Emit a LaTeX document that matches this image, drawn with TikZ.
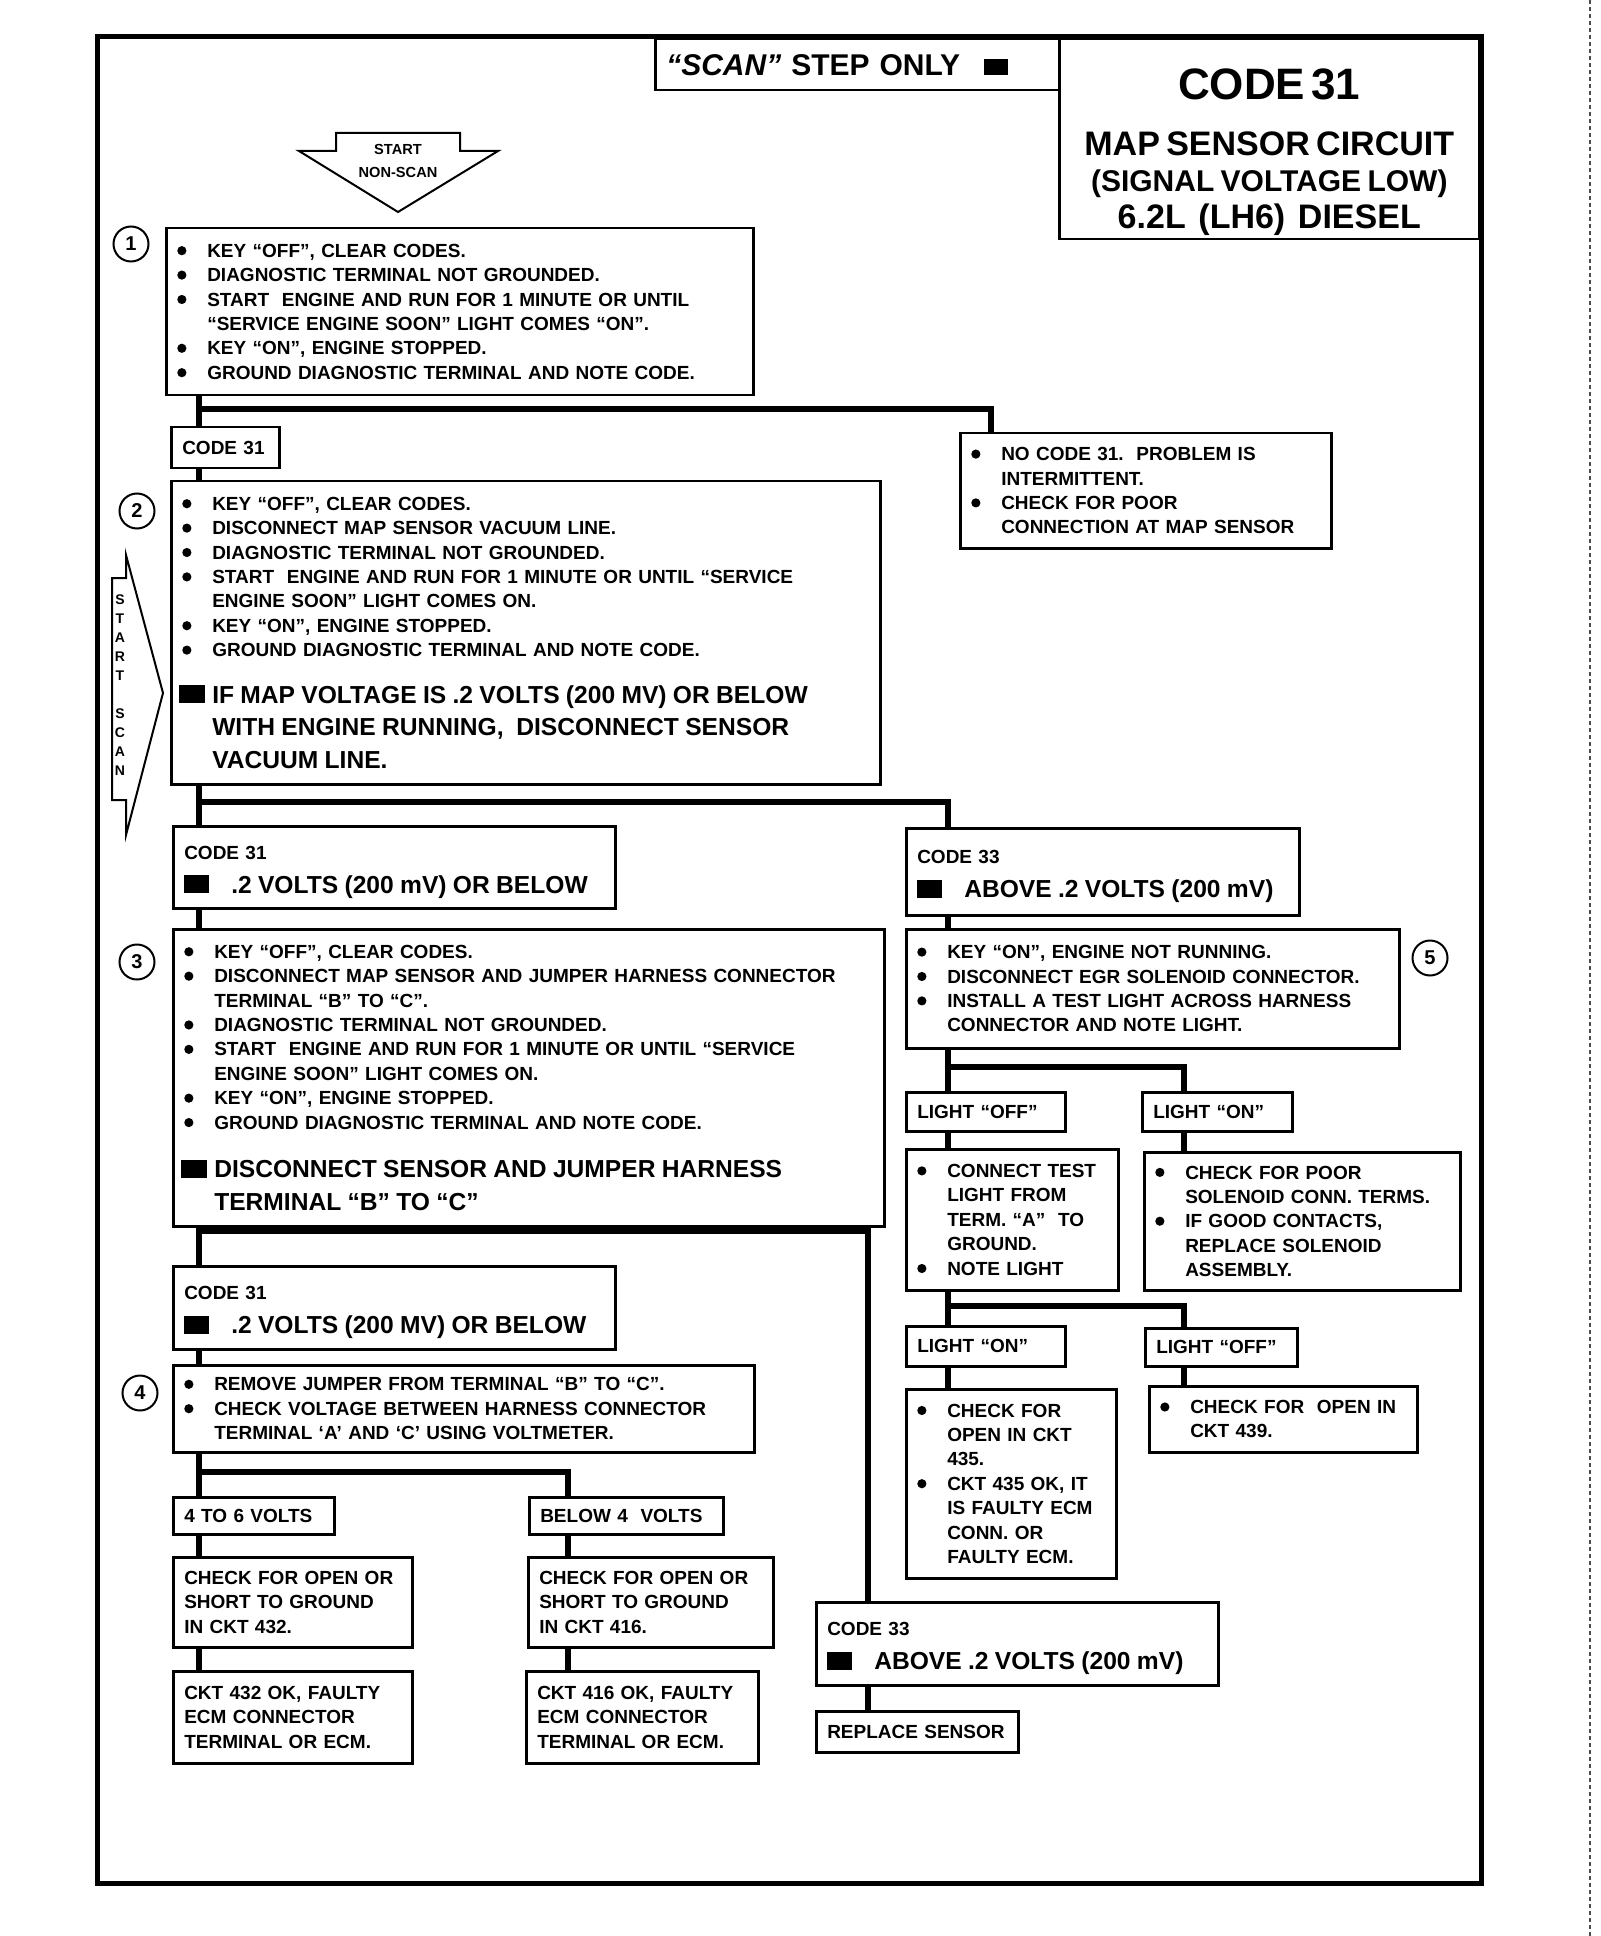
\documentclass[tikz,border=0pt]{standalone}
\usepackage{fontspec}
\setmainfont{Liberation Sans}
\usetikzlibrary{positioning,calc}
\tikzset{
  box/.style={draw,line width=1.25pt,anchor=north west,align=left,
              inner xsep=5.5pt,inner ysep=2pt,
              font=\fontsize{9.5}{12.2}\selectfont\bfseries},
  wh/.style 2 args={text width=#1pt,minimum height=#2pt},
  num/.style={circle,draw,line width=1pt,minimum size=17.5pt,inner sep=0pt,
              font=\fontsize{10}{10}\selectfont\bfseries},
  conn/.style={line width=2.6pt},
}
\newcommand{\bul}{\makebox[15pt][l]{\tikz[baseline=-3.3pt]\fill (2.3pt,0) circle (2.3pt);}}
\newcommand{\cont}{\hspace*{15pt}}
\newcommand{\blk}{\makebox[15pt][l]{\hspace*{-1.5pt}\rule{13pt}{9pt}}}
\newcommand{\blkc}{\makebox[23.5pt][l]{\rule{12.5pt}{9pt}}}
\newcommand{\bigtxt}{\fontsize{12.3}{16.25}\selectfont}

\begin{document}
\begin{tikzpicture}[x=0.5pt,y=-0.5pt,
    arrtxt/.style={font=\fontsize{7.3}{11.5}\selectfont\bfseries,align=center},
    outl/.style={draw,line width=1pt,line join=miter},
  ]
\useasboundingbox (0,0) rectangle (1600,1936);
\draw[line width=2.5pt] (97,37) rectangle (1481,1883);
\draw[black!70,line width=0.6pt,dash pattern=on 2pt off 1.5pt] (1590,0) -- (1590,1936);

% heading
\node[box,wh={191}{25.5},font=\fontsize{15}{18}\selectfont\bfseries] (scan) at (654,38)
  {\textit{“SCAN”} STEP ONLY\hspace{12pt}\rule{12pt}{8pt}};
\node[box,wh={199}{100},align=center] (title) at (1058,38)
  {{\fontsize{22}{26}\selectfont CODE 31\par}
   {\fontsize{17}{28}\selectfont MAP SENSOR CIRCUIT\par}
   {\fontsize{15}{18}\selectfont (SIGNAL VOLTAGE LOW)\par}
   {\fontsize{17}{18.5}\selectfont 6.2L\ \ (LH6)\ \ DIESEL\par}\kern-13pt};

% start arrows
\draw[outl] (336,133) -- (460,133) -- (460,151) -- (498,151) -- (398,212)
  -- (299,151) -- (336,151) -- cycle;
\node[arrtxt] (nonscan) at (398,161) {START\\NON-SCAN};
\draw[outl] (126,555) -- (163,693) -- (126,835) -- (126,800) -- (112,800)
  -- (112,578) -- (126,578) -- cycle;
\node[arrtxt,font=\fontsize{7}{9.5}\selectfont\bfseries] (startscan) at (120,685)
  {S\\T\\A\\R\\T\\[9.5pt]S\\C\\A\\N};

% step numbers
\node[num] (n1) at (131,244) {1};
\node[num] (n2) at (137,511) {2};
\node[num] (n3) at (137,962) {3};
\node[num] (n4) at (140,1393) {4};
\node[num] (n5) at (1430,958) {5};

% left column
\node[box,wh={282.5}{83.5}] (b1) at (165,227)
  {\bul KEY “OFF”, CLEAR CODES.\\
   \bul DIAGNOSTIC TERMINAL NOT GROUNDED.\\
   \bul START\ \ ENGINE AND RUN FOR 1 MINUTE OR UNTIL\\
   \cont “SERVICE ENGINE SOON” LIGHT COMES “ON”.\\
   \bul KEY “ON”, ENGINE STOPPED.\\
   \bul GROUND DIAGNOSTIC TERMINAL AND NOTE CODE.};
\node[box,wh={43}{20.5}] (c31a) at (170,426) {CODE 31};
\node[box,wh={174.5}{57.5}] (nc) at (959,432)
  {\bul NO CODE 31.\ \ PROBLEM IS\\
   \cont INTERMITTENT.\\
   \bul CHECK FOR POOR\\
   \cont CONNECTION AT MAP SENSOR};
\node[box,wh={343.5}{151.5}] (b2) at (170,480)
  {\bul KEY “OFF”, CLEAR CODES.\\
   \bul DISCONNECT MAP SENSOR VACUUM LINE.\\
   \bul DIAGNOSTIC TERMINAL NOT GROUNDED.\\
   \bul START\ \ ENGINE AND RUN FOR 1 MINUTE OR UNTIL “SERVICE\\
   \cont ENGINE SOON” LIGHT COMES ON.\\
   \bul KEY “ON”, ENGINE STOPPED.\\
   \bul GROUND DIAGNOSTIC TERMINAL AND NOTE CODE.\par
   \vspace{7pt}{\bigtxt\blk IF MAP VOLTAGE IS .2 VOLTS (200 MV) OR BELOW\\
   \cont WITH ENGINE RUNNING,\ \ DISCONNECT SENSOR\\
   \cont VACUUM LINE.\par}};
\node[box,wh={210}{41}] (c31b) at (172,825)
  {CODE 31\par{\fontsize{12.3}{17}\selectfont\blkc .2 VOLTS (200 mV) OR BELOW\par}\kern-5pt};
\node[box,wh={344.5}{148.5}] (b3) at (172,928)
  {\bul KEY “OFF”, CLEAR CODES.\\
   \bul DISCONNECT MAP SENSOR AND JUMPER HARNESS CONNECTOR\\
   \cont TERMINAL “B” TO “C”.\\
   \bul DIAGNOSTIC TERMINAL NOT GROUNDED.\\
   \bul START\ \ ENGINE AND RUN FOR 1 MINUTE OR UNTIL “SERVICE\\
   \cont ENGINE SOON” LIGHT COMES ON.\\
   \bul KEY “ON”, ENGINE STOPPED.\\
   \bul GROUND DIAGNOSTIC TERMINAL AND NOTE CODE.\par
   \vspace{8pt}{\bigtxt\blk DISCONNECT SENSOR AND JUMPER HARNESS\\
   \cont TERMINAL “B” TO “C”\par}};
\node[box,wh={210}{41.5}] (c31c) at (172,1265)
  {CODE 31\par{\fontsize{12.3}{17}\selectfont\blkc .2 VOLTS (200 MV) OR BELOW\par}\kern-5pt};
\node[box,wh={279.5}{43.5}] (b4) at (172,1364)
  {\bul REMOVE JUMPER FROM TERMINAL “B” TO “C”.\\
   \bul CHECK VOLTAGE BETWEEN HARNESS CONNECTOR\\
   \cont TERMINAL ‘A’ AND ‘C’ USING VOLTMETER.};
\node[box,wh={69.5}{18.5}] (v46) at (172,1496) {4 TO 6 VOLTS};
\node[box,wh={86}{18.5}] (vb4) at (528,1496) {BELOW 4\ \ VOLTS};
\node[box,wh={108.5}{45}] (k432) at (172,1556)
  {CHECK FOR OPEN OR\\SHORT TO GROUND\\IN CKT 432.};
\node[box,wh={111.5}{45}] (k416) at (527,1556)
  {CHECK FOR OPEN OR\\SHORT TO GROUND\\IN CKT 416.};
\node[box,wh={108.5}{46}] (ok432) at (172,1670)
  {CKT 432 OK, FAULTY\\ECM CONNECTOR\\TERMINAL OR ECM.};
\node[box,wh={105}{46}] (ok416) at (525,1670)
  {CKT 416 OK, FAULTY\\ECM CONNECTOR\\TERMINAL OR ECM.};

% right column
\node[box,wh={185.5}{43.5}] (c33a) at (905,827)
  {CODE 33\par{\fontsize{12.3}{17}\selectfont\blkc ABOVE .2 VOLTS (200 mV)\par}\kern-5pt};
\node[box,wh={235.5}{59.5}] (b5) at (905,928)
  {\bul KEY “ON”, ENGINE NOT RUNNING.\\
   \bul DISCONNECT EGR SOLENOID CONNECTOR.\\
   \bul INSTALL A TEST LIGHT ACROSS HARNESS\\
   \cont CONNECTOR AND NOTE LIGHT.};
\node[box,wh={68.5}{19.5}] (loffa) at (905,1091) {LIGHT “OFF”};
\node[box,wh={64}{19.5}] (lona) at (1141,1091) {LIGHT “ON”};
\node[box,wh={95}{70.5}] (ctl) at (905,1148)
  {\bul CONNECT TEST\\
   \cont LIGHT FROM\\
   \cont TERM. “A”\ \ TO\\
   \cont GROUND.\\
   \bul NOTE LIGHT};
\node[box,wh={147}{69}] (cps) at (1143,1151)
  {\bul CHECK FOR POOR\\
   \cont SOLENOID CONN. TERMS.\\
   \bul IF GOOD CONTACTS,\\
   \cont REPLACE SOLENOID\\
   \cont ASSEMBLY.};
\node[box,wh={68.5}{20}] (lonb) at (905,1325) {LIGHT “ON”};
\node[box,wh={65}{19}] (loffb) at (1144,1327) {LIGHT “OFF”};
\node[box,wh={94}{94.5}] (c435) at (905,1388)
  {\bul CHECK FOR\\
   \cont OPEN IN CKT\\
   \cont 435.\\
   \bul CKT 435 OK, IT\\
   \cont IS FAULTY ECM\\
   \cont CONN. OR\\
   \cont FAULTY ECM.};
\node[box,wh={123}{33}] (c439) at (1148,1385)
  {\bul CHECK FOR\ \ OPEN IN\\
   \cont CKT 439.};
\node[box,wh={190}{41.5}] (c33b) at (815,1601)
  {CODE 33\par{\fontsize{12.3}{17}\selectfont\blkc ABOVE .2 VOLTS (200 mV)\par}\kern-5pt};
\node[box,wh={90}{20.5}] (rep) at (815,1710) {REPLACE SENSOR};

% junctions
\coordinate (j1) at (199,409);
\coordinate (j2) at (199,802);
\coordinate (j3) at (199,1231);
\coordinate (j4) at (199,1472);
\coordinate (j5) at (948,1067);
\coordinate (j6) at (948,1306);
\coordinate (xnc) at (991,0);
\coordinate (xv) at (568,0);
\coordinate (xl) at (1184,0);
\coordinate (xlong) at (868,0);

% connectors
\draw[conn] (b1.south -| j1) -- (c31a.north -| j1);
\draw[conn] (j1) -| (nc.north -| xnc);
\draw[conn] (c31a.south -| j1) -- (b2.north -| j1);
\draw[conn] (b2.south -| j2) -- (c31b.north -| j2);
\draw[conn] (j2) -| (c33a.north -| j5);
\draw[conn] (c31b.south -| j2) -- (b3.north -| j2);
\draw[conn] (b3.south -| j3) -- (c31c.north -| j3);
\draw[conn] (j3) -| (c33b.north -| xlong);
\draw[conn] (c31c.south -| j3) -- (b4.north -| j3);
\draw[conn] (b4.south -| j4) -- (v46.north -| j4);
\draw[conn] (j4) -| (vb4.north -| xv);
\draw[conn] (v46.south -| j4) -- (k432.north -| j4);
\draw[conn] (k432.south -| j4) -- (ok432.north -| j4);
\draw[conn] (vb4.south -| xv) -- (k416.north -| xv);
\draw[conn] (k416.south -| xv) -- (ok416.north -| xv);
\draw[conn] (c33b.south -| xlong) -- (rep.north -| xlong);
\draw[conn] (c33a.south -| j5) -- (b5.north -| j5);
\draw[conn] (b5.south -| j5) -- (loffa.north -| j5);
\draw[conn] (j5) -| (lona.north -| xl);
\draw[conn] (loffa.south -| j5) -- (ctl.north -| j5);
\draw[conn] (lona.south -| xl) -- (cps.north -| xl);
\draw[conn] (ctl.south -| j6) -- (lonb.north -| j6);
\draw[conn] (j6) -| (loffb.north -| xl);
\draw[conn] (lonb.south -| j6) -- (c435.north -| j6);
\draw[conn] (loffb.south -| xl) -- (c439.north -| xl);
\end{tikzpicture}
\end{document}
